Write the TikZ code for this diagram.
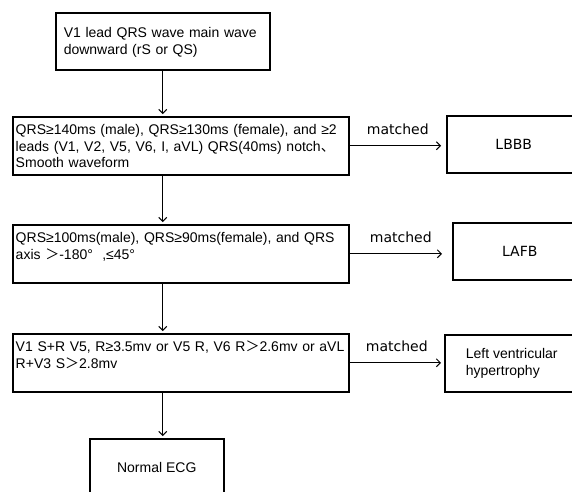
\documentclass[tikz,border=0pt]{standalone}
\usepackage{fontspec}
\setmainfont{Liberation Sans}
\newfontfamily\dejavu{DejaVu Sans}
\newfontfamily\cjk{Noto Sans CJK SC}
\usetikzlibrary{arrows.meta}
\usetikzlibrary{calc}

\begin{document}
\begin{tikzpicture}[x=10pt, y=-10pt,
        box/.style={draw, line width=1.5pt, anchor=north west, inner xsep=3pt,
            inner ysep=4pt, align=left, font=\fontsize{14}{16.5}\selectfont},
        cond/.style={box, text width=330pt, text height=14pt, text depth=36pt},
        result/.style={box, minimum width=134pt, minimum height=57pt},
        link/.style={line width=1pt, -{Straight Barb[length=4pt,width=8pt]}},
        tag/.style={font=\dejavu\fontsize{14}{16}\selectfont}]
        \useasboundingbox (0,0) rectangle (57.2,49.1);

        \node[box, text width=198pt, inner xsep=8pt, text height=21pt,
        text depth=28pt] (start) at (5.5,1.2) {V1 lead QRS wave main wave\\
            downward (rS or QS)};

        \node[cond] (qrsA) at (1.2,11.6) {QRS≥140ms (male), QRS≥130ms
            (female), and ≥2\\ leads (V1, V2, V5, V6, I, aVL) QRS(40ms)
            notch{\cjk 、}\\ Smooth waveform};
        \node[cond] (qrsB) at (1.2,22.4) {QRS≥100ms(male), QRS≥90ms(female),
            and QRS\\ axis {\cjk ＞}-180°\ \ ,≤45°};
        \node[cond] (qrsC) at (1.2,33.3) {V1 S+R V5, R≥3.5mv or V5 R, V6
            R{\cjk ＞}2.6mv or aVL\\ R+V3 S{\cjk ＞}2.8mv};

        \node[result, tag] (lbbb) at (44.6,11.5) {LBBB};
        \node[result, tag] (lafb) at (45.2,22.2) {LAFB};
        \node[result] (lvh) at (44.4,33.4) {Left ventricular\\ hypertrophy};
        \node[result] (normal) at (8.9,43.8) {Normal ECG};

        \draw[link, shorten >=2pt] (start.south) -- (start.south |- qrsA.north);
        \draw[link, shorten >=2pt] (start.south |- qrsA.south) -- (start.south
        |- qrsB.north);
        \draw[link, shorten >=2pt] (start.south |- qrsB.south) -- (start.south
        |- qrsC.north);
        \draw[link, shorten >=2pt] (start.south |- qrsC.south) -- (start.south
        |- normal.north);

        \draw[link, shorten >=5pt] (qrsA.east) -- (qrsA.east -| lbbb.west)
        node[tag, midway, above=7pt] {matched};
        \draw[link, shorten >=10pt] (qrsB.east) -- (qrsB.east -| lafb.west)
        node[tag, midway, above=7pt] {matched};
        \draw[link, shorten >=3pt] (qrsC.east) -- (qrsC.east -| lvh.west)
        node[tag, midway, above=7pt] {matched};
\end{tikzpicture}
\end{document}
